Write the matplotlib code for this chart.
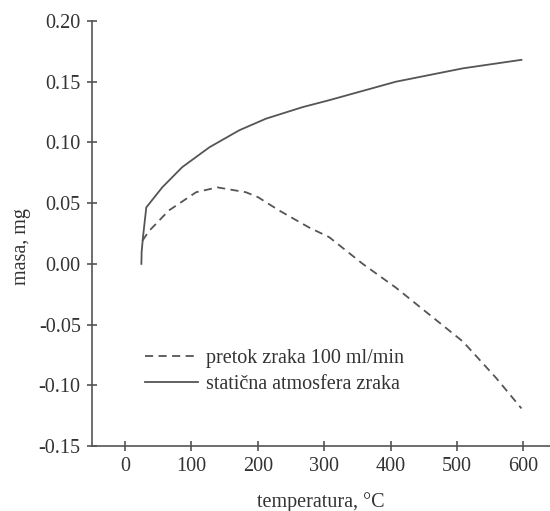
import numpy as np
import matplotlib.pyplot as plt
from matplotlib.ticker import FuncFormatter

# data
temp_static = [24.6, 25, 27, 32, 56, 86, 127, 172, 212, 267, 307, 408, 509, 597]
mass_static = [0.0, 0.010, 0.022, 0.0465, 0.063, 0.0796, 0.096, 0.110, 0.1195, 0.129,
               0.1347, 0.150, 0.161, 0.168]

temp_flow = [26, 36, 66, 107, 139, 182, 200, 232, 277, 307.5, 358, 408, 458, 509, 559, 597]
mass_flow = [0.019, 0.027, 0.044, 0.059, 0.063, 0.059, 0.055, 0.044, 0.030, 0.022, 0.0,
             -0.0196, -0.0416, -0.064, -0.094, -0.119]

x_ticks = [0, 100, 200, 300, 400, 500, 600]
y_ticks = [-0.15, -0.10, -0.05, 0.00, 0.05, 0.10, 0.15, 0.20]

plt.rcParams['font.family'] = ['Liberation Serif', 'DejaVu Serif']
ink = '#555555'
txt = '#333333'

fig = plt.figure(figsize=(5.5, 5.11), dpi=100)
ax = fig.add_axes([0.167, 0.127, 0.833, 0.832])

ax.plot(temp_flow, mass_flow, color=ink, linewidth=1.3, linestyle=(0, (4.5, 3)),
        label='pretok zraka 100 ml/min')
ax.plot(temp_static, mass_static, color=ink, linewidth=1.3,
        label='statična atmosfera zraka')

ax.set_xlim(-50, 640)
ax.set_ylim(-0.15, 0.20)
ax.set_xticks(x_ticks)
ax.set_yticks(y_ticks)
ax.yaxis.set_major_formatter(FuncFormatter(lambda v, p: '%.2f' % v))

for s in ['top', 'right']:
    ax.spines[s].set_visible(False)
for s in ['left', 'bottom']:
    ax.spines[s].set_color(ink)
    ax.spines[s].set_linewidth(1.2)

ax.tick_params(direction='inout', length=7, width=1.2, color=ink,
               labelsize=14.5, labelcolor=txt, pad=4.5)

ax.set_xlabel('temperatura, °C', fontsize=14.5, color=txt)
ax.set_ylabel('masa, mg', fontsize=14.5, color=txt)
ax.xaxis.set_label_coords(0.5, -0.108)
ax.yaxis.set_label_coords(-0.133, 0.47)

leg = ax.legend(loc='center left', bbox_to_anchor=(0.116, 0.176), frameon=False,
                fontsize=14.5, handlelength=2.63, handletextpad=0.4,
                labelspacing=0.35, borderpad=0, borderaxespad=0, labelcolor=txt)

fig.savefig('out.png', dpi=100)
